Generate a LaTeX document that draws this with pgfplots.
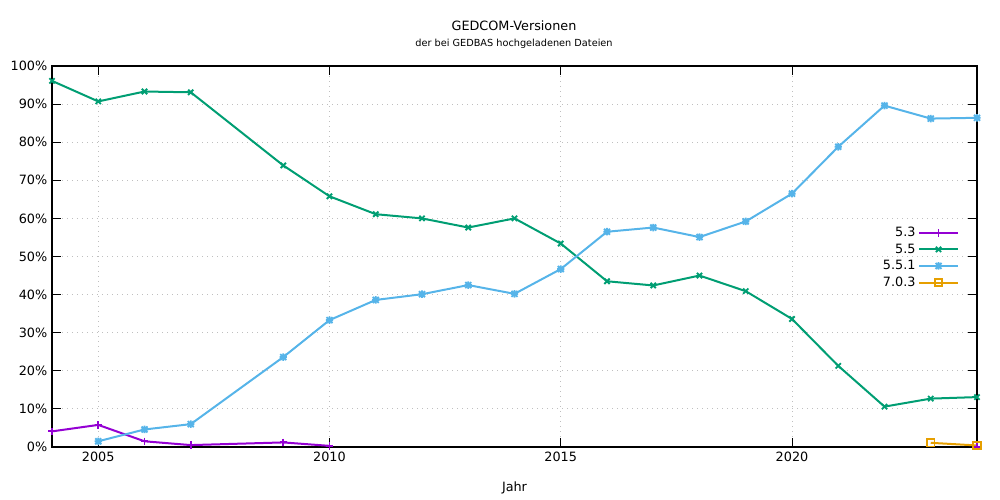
\documentclass[border=0pt]{standalone}
\usepackage{fontspec}
\setmainfont{DejaVu Sans}
\usepackage{pgfplots}
\pgfplotsset{compat=1.18}
\definecolor{gpPurple}{HTML}{9400D3}
\definecolor{gpGreen}{HTML}{009E73}
\definecolor{gpBlue}{HTML}{56B4E9}
\definecolor{gpOrange}{HTML}{E69F00}
\pgfdeclareplotmark{plusx}{%
  \pgfpathmoveto{\pgfqpoint{\pgfplotmarksize}{0pt}}\pgfpathlineto{\pgfqpoint{-\pgfplotmarksize}{0pt}}%
  \pgfpathmoveto{\pgfqpoint{0pt}{\pgfplotmarksize}}\pgfpathlineto{\pgfqpoint{0pt}{-\pgfplotmarksize}}%
  \pgfpathmoveto{\pgfqpoint{0.8\pgfplotmarksize}{0.8\pgfplotmarksize}}\pgfpathlineto{\pgfqpoint{-0.8\pgfplotmarksize}{-0.8\pgfplotmarksize}}%
  \pgfpathmoveto{\pgfqpoint{0.8\pgfplotmarksize}{-0.8\pgfplotmarksize}}\pgfpathlineto{\pgfqpoint{-0.8\pgfplotmarksize}{0.8\pgfplotmarksize}}%
  \pgfusepathqstroke}
\begin{document}
\begin{tikzpicture}
\useasboundingbox (0pt,0pt) rectangle (750pt,375pt);
\node[font=\fontsize{9.6}{11}\selectfont] at (385.5pt,356pt) {GEDCOM-Versionen};
\node[font=\fontsize{7.3}{9}\selectfont] at (385.5pt,342.5pt) {der bei GEDBAS hochgeladenen Dateien};
\begin{axis}[
  at={(39pt,39.75pt)}, anchor=south west,
  scale only axis, width=693.75pt, height=285.75pt,
  xmin=2004, xmax=2024, ymin=0, ymax=100,
  xtick={2005,2010,2015,2020},
  ytick={0,10,...,100},
  yticklabel={\pgfmathprintnumber{\tick}\%},
  /pgf/number format/1000 sep={},
  /pgf/number format/assume math mode=true,
  tick label style={font=\fontsize{9.6}{11}\selectfont},
  tick align=inside,
  major tick length=6.75pt,
  tick style={black, line width=0.75pt},
  axis line style={line width=0.9pt},
  grid=major,
  grid style={gray!50, line width=0.6pt, dash pattern=on 0.75pt off 3pt},
  xlabel={Jahr},
  xlabel style={font=\fontsize{9.6}{11}\selectfont, at={(axis description cs:0.5,-0.107)}, anchor=center},
  unbounded coords=jump,
  every axis plot/.append style={line width=1.5pt},
  mark options={solid, line width=1.4pt},
  legend style={draw=none, fill=none, at={(axis description cs:0.985,0.592)}, anchor=north east,
    font=\fontsize{9.6}{11}\selectfont, row sep=-0.1pt},
  legend plot pos=right,
  legend cell align=right,
  legend image code/.code={\draw[mark repeat=2,mark phase=2] plot coordinates {(0pt,0pt)(14.5pt,0pt)(29pt,0pt)};},
]
\addplot[color=gpPurple, mark=+, mark size=2.8pt] coordinates {
 (2004,4.1) (2005,5.8) (2006,1.5) (2007,0.5) (2009,1.2) (2010,0.3) (2011,nan) (2024,0.1)
};
\addlegendentry{5.3}
\addplot[color=gpGreen, mark=x, mark size=2.8pt] coordinates {
 (2004,96.1) (2005,90.7) (2006,93.3) (2007,93.1) (2009,73.9) (2010,65.8) (2011,61.1)
 (2012,60.0) (2013,57.6) (2014,60.0) (2015,53.4) (2016,43.5) (2017,42.4) (2018,45.0)
 (2019,40.9) (2020,33.6) (2021,21.3) (2022,10.6) (2023,12.7) (2024,13.1)
};
\addlegendentry{5.5}
\addplot[color=gpBlue, mark=plusx, mark size=2.8pt] coordinates {
 (2005,1.5) (2006,4.6) (2007,6.0) (2009,23.6) (2010,33.3) (2011,38.6) (2012,40.1)
 (2013,42.5) (2014,40.2) (2015,46.7) (2016,56.5) (2017,57.6) (2018,55.1) (2019,59.2)
 (2020,66.5) (2021,78.8) (2022,89.6) (2023,86.2) (2024,86.4)
};
\addlegendentry{5.5.1}
\addplot[color=gpOrange, mark=square, mark size=2.8pt] coordinates {
 (2023,1.1) (2024,0.4)
};
\addlegendentry{7.0.3}
\end{axis}
\end{tikzpicture}
\end{document}
